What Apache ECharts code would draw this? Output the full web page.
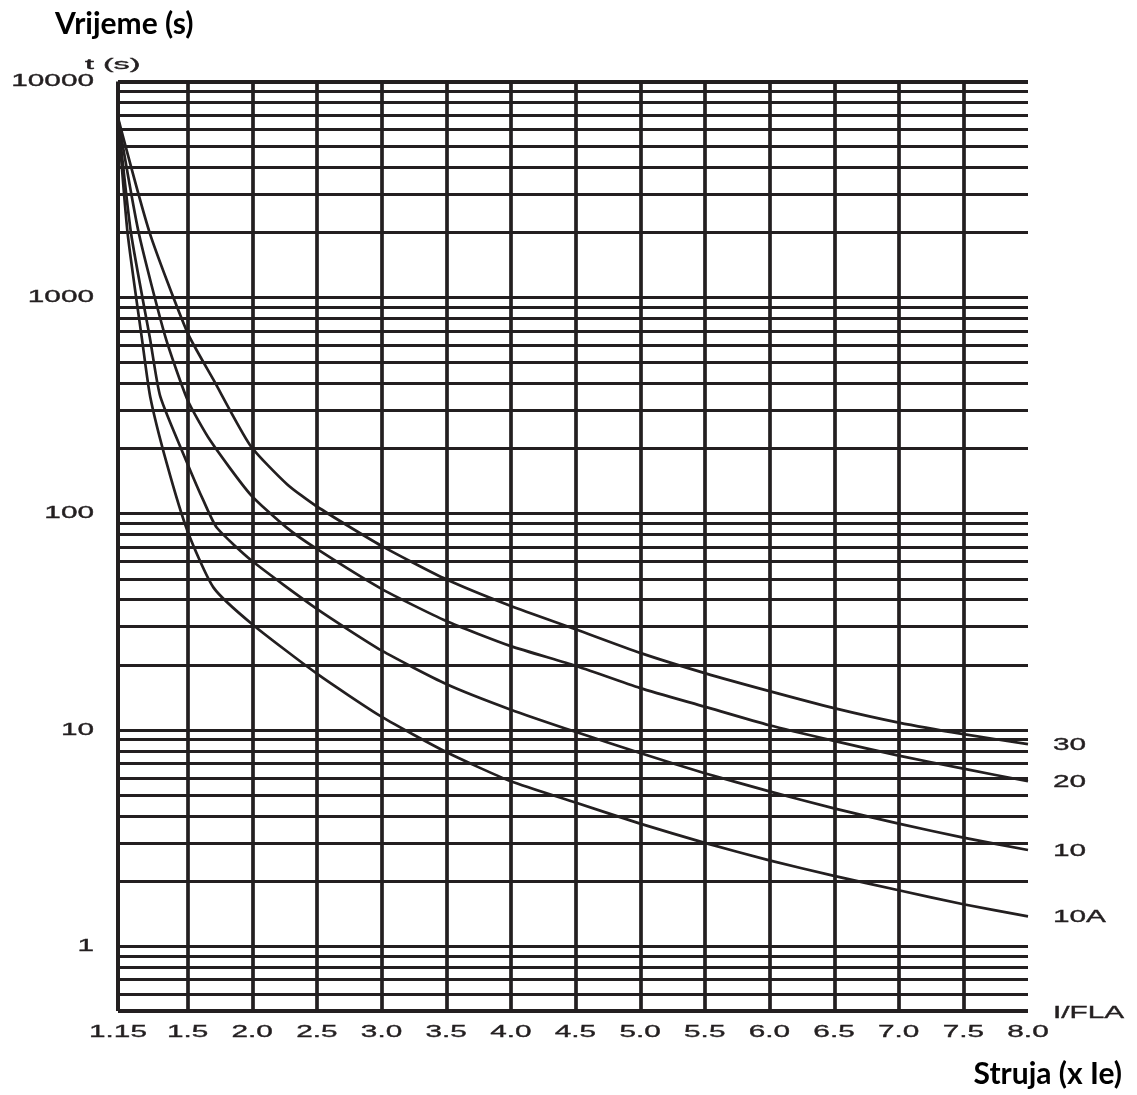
<!DOCTYPE html>
<html>
<head>
<meta charset="utf-8">
<title>Vrijeme isklapanja – I/FLA</title>
<script src="https://cdn.jsdelivr.net/npm/echarts@6/dist/echarts.min.js"></script>
<style>
  html, body { margin: 0; padding: 0; background: #ffffff; }
  #chart { width: 1137px; height: 1095px; }
</style>
</head>
<body>
<div id="chart"></div>
<script>
// ---- data -------------------------------------------------------------
// Current as a multiple of full-load amps (I/FLA) and the tick labels shown
const xTickValues = [1.15, 1.5, 2.0, 2.5, 3.0, 3.5, 4.0, 4.5, 5.0, 5.5, 6.0, 6.5, 7.0, 7.5, 8.0];
const xTickLabels = ['1.15', '1.5', '2.0', '2.5', '3.0', '3.5', '4.0', '4.5', '5.0', '5.5', '6.0', '6.5', '7.0', '7.5', '8.0'];

// Trip time in seconds (log scale)
const yTickValues = [1, 10, 100, 1000, 10000];
const yTickLabels = ['1', '10', '100', '1000', '10000'];
const gridTimes = [
  0.5, 0.6, 0.7, 0.8, 0.9,
  1, 2, 3, 4, 5, 6, 7, 8, 9,
  10, 20, 30, 40, 50, 60, 70, 80, 90,
  100, 200, 300, 400, 500, 600, 700, 800, 900,
  1000, 2000, 3000, 4000, 5000, 6000, 7000, 8000, 9000,
  10000
];

// Trip classes
const classNames = ['30', '20', '10', '10A'];

// [I/FLA, t (s)]
const class30 = [
  [1.15, 6800], [1.309, 2000], [1.5, 687], [1.701, 416], [1.985, 207], [2.269, 137],
  [2.5, 108], [3.0, 71], [3.5, 49.7], [4.0, 37.4], [4.5, 29.2], [5.0, 22.7],
  [5.5, 18.3], [6.0, 15.1], [6.5, 12.6], [7.0, 10.8], [7.5, 9.55], [8.0, 8.58]
];
const class20 = [
  [1.15, 6800], [1.254, 2000], [1.388, 660], [1.5, 336], [1.676, 218], [1.985, 123],
  [2.269, 86], [2.5, 68.7], [3.0, 44.9], [3.5, 31.9], [4.0, 24.4], [4.5, 19.8],
  [5.0, 15.6], [5.5, 12.8], [6.0, 10.5], [6.5, 8.89], [7.0, 7.60], [7.5, 6.61], [8.0, 5.78]
];
const class10 = [
  [1.15, 6800], [1.215, 2000], [1.312, 639], [1.363, 348], [1.5, 170], [1.624, 114.6],
  [1.727, 86.1], [2.0, 60.4], [2.5, 36.3], [3.0, 23.3], [3.5, 16.3], [4.0, 12.4],
  [4.5, 9.79], [5.0, 7.81], [5.5, 6.30], [6.0, 5.19], [6.5, 4.33], [7.0, 3.68], [7.5, 3.17], [8.0, 2.78]
];
const class10A = [
  [1.15, 6800], [1.198, 2000], [1.271, 639], [1.312, 348], [1.396, 170], [1.5, 83],
  [1.701, 45.5], [2.0, 30.8], [2.5, 18.2], [3.0, 11.5], [3.5, 7.89], [4.0, 5.78],
  [4.5, 4.61], [5.0, 3.68], [5.5, 3.0], [6.0, 2.49], [6.5, 2.11], [7.0, 1.81], [7.5, 1.56], [8.0, 1.37]
];
const classCurves = [class30, class20, class10, class10A];

// ---- layout helpers ---------------------------------------------------
const INK = '#231f20';
// The scale is piecewise linear: 1.15 -> 1.5 takes a slightly wider step
// than each following 0.5 step.
const FIRST_STEP = 1.076;
function axisPos(I) {
  return I < 1.5 ? (I - 1.15) / 0.35 * FIRST_STEP : FIRST_STEP + (I - 1.5) / 0.5;
}
const X_MAX = axisPos(8.0);

function gridLineWidth(v) {
  if (v === 0.5 || v === 10000) return 3.8;
  const lg = Math.log10(v);
  return Math.abs(lg - Math.round(lg)) < 1e-9 ? 3.2 : 2.9;
}

const markLineData = []
  .concat(gridTimes.map(v => ({ yAxis: v, lineStyle: { width: gridLineWidth(v) } })))
  .concat(xTickValues.map((I, i) => ({
    xAxis: axisPos(I),
    lineStyle: { width: (i === 0 || i === xTickValues.length - 1) ? 4 : 3.7 }
  })));

const chart = echarts.init(document.getElementById('chart'), null, { renderer: 'canvas' });

const series = classCurves.map((curve, idx) => ({
  name: classNames[idx],
  type: 'line',
  data: curve.map(p => [axisPos(p[0]), p[1]]),
  showSymbol: false,
  smooth: 0.2,
  silent: true,
  z: 3,
  lineStyle: { color: INK, width: 2.7 }
}));

// Grid of split lines drawn through the axes' own scales
series[0].markLine = {
  silent: true,
  symbol: ['none', 'none'],
  label: { show: false },
  animation: false,
  lineStyle: { color: INK, type: 'solid' },
  data: markLineData
};

chart.setOption({
  animation: false,
  backgroundColor: '#ffffff',
  grid: { left: 118, right: 109, top: 81.5, bottom: 84, containLabel: false },
  xAxis: {
    type: 'value', min: 0, max: X_MAX,
    axisLine: { show: false }, axisTick: { show: false },
    axisLabel: { show: false }, splitLine: { show: false }
  },
  yAxis: {
    type: 'log', logBase: 10, min: 0.5, max: 10000,
    axisLine: { show: false }, axisTick: { show: false },
    axisLabel: { show: false }, splitLine: { show: false }
  },
  series: series
});

// ---- stretched (extended-style) labels --------------------------------
const LABEL_FONT = '"Liberation Sans", Arial, Helvetica, sans-serif';
function wideText(text, x, y, align, size, sx) {
  return {
    type: 'text', x: x, y: y, scaleX: sx, scaleY: 1, originX: 0, originY: 0,
    silent: true, z: 10,
    style: {
      text: text, x: 0, y: 0, fill: INK, stroke: INK, lineWidth: 0.35,
      font: size + 'px ' + LABEL_FONT,
      textAlign: align, align: align,
      textVerticalAlign: 'middle', verticalAlign: 'middle'
    }
  };
}
function boldTitle(text, x, y, align) {
  return {
    type: 'text', x: x, y: y, silent: true, z: 10,
    style: {
      text: text, x: 0, y: 0, fill: '#000000',
      font: 'bold 30px Lato, "Open Sans", sans-serif',
      textAlign: align, align: align,
      textVerticalAlign: 'middle', verticalAlign: 'middle'
    }
  };
}

const px = v => chart.convertToPixel({ xAxisIndex: 0 }, v);
const py = v => chart.convertToPixel({ yAxisIndex: 0 }, v);
const leftX = px(0);
const rightX = px(X_MAX);
const bottomY = py(0.5);

const graphics = [];
yTickValues.forEach((v, i) => {
  graphics.push(wideText(yTickLabels[i], leftX - 24, py(v), 'right', 17, 1.75));
});
xTickValues.forEach((I, i) => {
  graphics.push(wideText(xTickLabels[i], px(axisPos(I)), bottomY + 21, 'center', 17, 1.75));
});
classCurves.forEach((curve, idx) => {
  const last = curve[curve.length - 1];
  graphics.push(wideText(classNames[idx], rightX + 25, py(last[1]) + 1, 'left', 17, 1.75));
});
graphics.push(wideText('I/FLA', rightX + 25, bottomY + 2, 'left', 17, 1.75));
graphics.push(wideText('t (s)', leftX - 33, py(10000) - 16, 'left', 14, 2.3));
graphics.push(boldTitle('Vrijeme (s)', 55, 24, 'left'));
graphics.push(boldTitle('Struja (x Ie)', 1122, 1074, 'right'));

chart.setOption({ graphic: graphics });
</script>
</body>
</html>
